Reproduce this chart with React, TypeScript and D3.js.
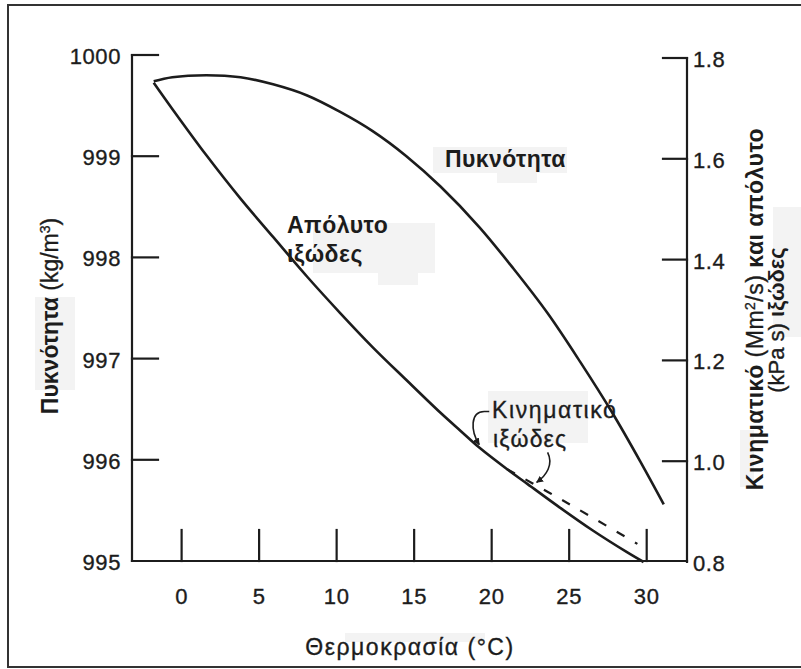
import * as d3 from "d3";

const densityTemp = [-1.8, -0.6, 1.6, 3.8, 5.9, 8.1, 10.2, 12.3, 14.5, 16.7, 19.2, 21.4, 23.6, 25.7, 27.8, 29.6, 31.1];
const density = [999.74, 999.78, 999.8, 999.78, 999.71, 999.6, 999.44, 999.25, 999.0, 998.7, 998.3, 997.89, 997.45, 996.97, 996.46, 995.98, 995.56];

const absTemp = [-1.8, -0.6, 1.6, 3.8, 5.9, 8.1, 10.2, 12.3, 14.5, 16.7, 18.0, 19.2, 21.0, 22.3, 24.4, 26.5, 28.7, 29.8];
const absVisc = [1.751, 1.699, 1.607, 1.521, 1.445, 1.366, 1.295, 1.227, 1.161, 1.096, 1.06, 1.027, 0.984, 0.955, 0.908, 0.863, 0.82, 0.8];

const kinTemp = [21.0, 23.8, 26.4, 29.4];
const kinVisc = [0.984, 0.936, 0.89, 0.836];

const xTicks = [0, 5, 10, 15, 20, 25, 30];
const leftTicks = [995, 996, 997, 998, 999, 1000];
const rightTicks = [0.8, 1.0, 1.2, 1.4, 1.6, 1.8];

const ink = "#1c1c1c";
const font = "'Liberation Sans', Arial, sans-serif";

export default function App() {
    const x = d3.scaleLinear().domain([-3.2, 32.6]).range([132, 687]);
    const yL = d3.scaleLinear().domain([995, 1000]).range([561, 55]);
    const yR = d3.scaleLinear().domain([0.8, 1.8]).range([562, 58]);

    const lineL = d3.line<number>()
        .x((d, i) => x(densityTemp[i]))
        .y(d => yL(d))
        .curve(d3.curveCatmullRom.alpha(0.5));
    const lineR = (temps: number[]) => d3.line<number>()
        .x((d, i) => x(temps[i]))
        .y(d => yR(d))
        .curve(d3.curveCatmullRom.alpha(0.5));

    const x0 = x.range()[0], x1 = x.range()[1];
    const yBottom = yL(995);

    // arrows of the "Κινηματικό ιξώδες" label, ending on the two curves
    const a1 = [x(19.2), yR(1.033)];
    const a2 = [x(22.9), yR(0.958)];

    // regular text gets a hair of stroke, the scan looks heavier than plain Arial
    const reg = {stroke: ink, strokeWidth: 0.35};

    return (
        <div style={{position: "absolute", left: 0, top: 0}}>
            <svg width={801} height={669} fontFamily={font} fill={ink}>
                <defs>
                    <marker id="head" viewBox="0 0 10 10" refX="9" refY="5" markerWidth="7" markerHeight="7"
                            markerUnits="userSpaceOnUse" orient="auto">
                        <path d="M0,0 L10,5 L0,10 z" fill={ink}/>
                    </marker>
                </defs>
                <rect width={801} height={669} fill="white"/>

                {/* faint scan patches behind labels */}
                <g fill="#f3f3f3">
                    <rect x={313} y={223} width={122} height={50}/>
                    <rect x={378} y={273} width={40} height={12}/>
                    <rect x={433} y={147} width={134} height={26}/>
                    <rect x={497} y={173} width={40} height={10}/>
                    <rect x={35} y={297} width={40} height={93}/>
                    <rect x={488} y={391} width={100} height={52}/>
                    <rect x={740} y={430} width={14} height={57}/>
                    <rect x={773} y={207} width={28} height={130}/>
                    <rect x={345} y={633} width={140} height={9}/>
                </g>

                <rect x={8} y={5} width={800} height={662} fill="none" stroke="#333" strokeWidth={2}/>

                {/* axes */}
                <g stroke={ink} strokeWidth={2.2} fill="none" strokeLinecap="square">
                    <line x1={x0} x2={x0} y1={yL(1000)} y2={yBottom}/>
                    <line x1={x0} x2={x1} y1={yBottom} y2={yBottom}/>
                    <line x1={x1} x2={x1} y1={yR(1.8)} y2={yR(0.8)}/>
                    {leftTicks.slice(1).map(t =>
                        <line key={t} x1={x0} x2={x0 + 26} y1={yL(t)} y2={yL(t)}/>
                    )}
                    {rightTicks.slice(1).map(t =>
                        <line key={t} x1={x1 - 24} x2={x1} y1={yR(t)} y2={yR(t)}/>
                    )}
                    {xTicks.map(t =>
                        <line key={t} x1={x(t)} x2={x(t)} y1={yBottom} y2={yBottom - 31}/>
                    )}
                </g>

                <g fontSize={22} letterSpacing={0.6} {...reg}>
                    {leftTicks.map(t =>
                        <text key={t} x={121} y={yL(t) + 9} textAnchor="end">{t}</text>
                    )}
                    {rightTicks.map(t =>
                        <text key={t} x={693} y={yR(t) + 9}>{t.toFixed(1)}</text>
                    )}
                    {xTicks.map(t =>
                        <text key={t} x={x(t)} y={604} textAnchor="middle">{t}</text>
                    )}
                </g>

                <g fontSize={23}>
                    <text x={410} y={655} textAnchor="middle" letterSpacing={1.5} {...reg}>Θερμοκρασία (°C)</text>

                    <text transform="translate(58,316) rotate(-90)" textAnchor="middle">
                        <tspan fontWeight="bold">Πυκνότητα</tspan>
                        <tspan {...reg}> (kg/m</tspan>
                        <tspan {...reg} fontSize={14} dy={-8}>3</tspan>
                        <tspan {...reg} dy={8}>)</tspan>
                    </text>
                    <text transform="translate(763,309) rotate(-90)" textAnchor="middle" letterSpacing={0.5}>
                        <tspan fontWeight="bold">Κινηματικό</tspan>
                        <tspan {...reg}> (Mm</tspan>
                        <tspan {...reg} fontSize={14} dy={-8}>2</tspan>
                        <tspan {...reg} dy={8}>/s) </tspan>
                        <tspan fontWeight="bold">και απόλυτο</tspan>
                    </text>
                    <text transform="translate(784,320) rotate(-90)" textAnchor="middle" fontSize={22}>
                        <tspan {...reg}>(kPa s) </tspan>
                        <tspan fontWeight="bold">ιξώδες</tspan>
                    </text>

                    <text x={445} y={167} fontWeight="bold" letterSpacing={0.4}>Πυκνότητα</text>
                    <text x={287} y={233} fontWeight="bold" letterSpacing={0.5}>Απόλυτο</text>
                    <text x={287} y={262} fontWeight="bold" letterSpacing={0.5}>ιξώδες</text>
                    <text x={492} y={418} letterSpacing={1.6} {...reg}>Κινηματικό</text>
                    <text x={493} y={447} letterSpacing={1.1} {...reg}>ιξώδες</text>
                </g>

                {/* curves */}
                <g fill="none" stroke={ink} strokeWidth={2.6} strokeLinejoin="round">
                    <path d={lineL(density) ?? ""}/>
                    <path d={lineR(absTemp)(absVisc) ?? ""}/>
                    <path d={lineR(kinTemp)(kinVisc) ?? ""} strokeWidth={2.2} strokeDasharray="9 12"/>
                </g>

                <g fill="none" stroke={ink} strokeWidth={1.6}>
                    <path d={`M${a1[0] + 10},${a1[1] - 33} h-5 C${a1[0] - 9},${a1[1] - 33} ${a1[0] - 9},${a1[1] - 14} ${a1[0]},${a1[1]}`}
                          markerEnd="url(#head)"/>
                    <path d={`M${a2[0] + 11},${a2[1] - 30} C${a2[0] + 17},${a2[1] - 18} ${a2[0] + 10},${a2[1] - 7} ${a2[0]},${a2[1]}`}
                          markerEnd="url(#head)"/>
                </g>
            </svg>
        </div>
    );
}
